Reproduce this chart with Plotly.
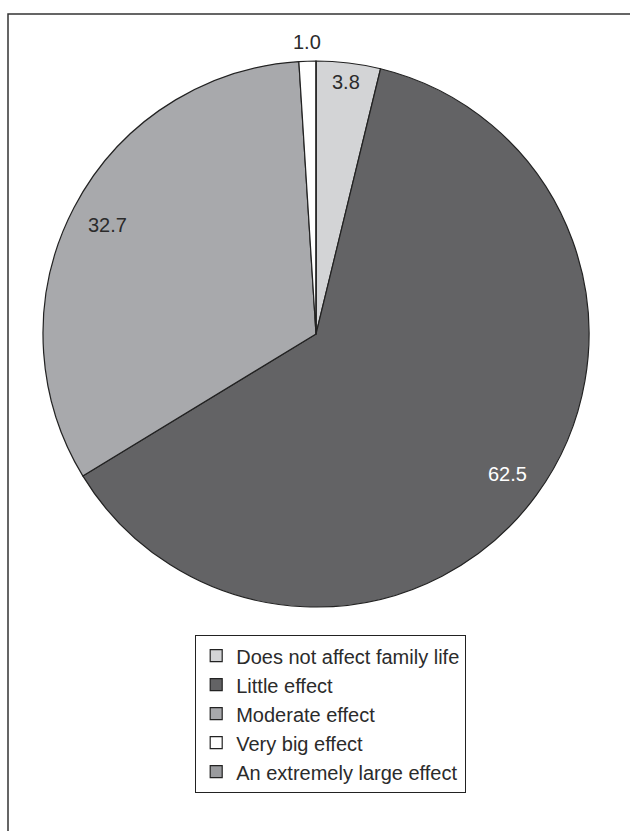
import math
import plotly.graph_objects as go

labels = ["Does not affect family life", "Little effect", "Moderate effect",
          "Very big effect", "An extremely large effect"]
values = [3.8, 62.5, 32.7, 1.0, 0.0]
colors = ["#d3d4d6", "#636365", "#a8a9ac", "#ffffff", "#9a9b9e"]
text_colors = ["#2b2b2b", "#ffffff", "#2b2b2b", "#2b2b2b", "#2b2b2b"]
# radial placement of each value label, as a fraction of the pie radius
label_radius = [0.93, 0.87, 0.86, 1.07, 0.0]

W, H = 630, 831
FONT = "Liberation Sans, Arial, sans-serif"

# pie geometry (pixels)
PX0, PX1 = 43, 589
PY0, PY1 = 61, 607
cx_px = (PX0 + PX1) / 2
cy_px = (PY0 + PY1) / 2
R = min(PX1 - PX0, PY1 - PY0) / 2

fig = go.Figure(go.Pie(
    labels=labels,
    values=values,
    textinfo="none",
    sort=False,
    direction="clockwise",
    rotation=0,
    marker=dict(colors=colors, line=dict(color="#222222", width=1.2)),
    domain=dict(x=[PX0 / W, PX1 / W], y=[1 - PY1 / H, 1 - PY0 / H]),
    showlegend=True,
    hoverinfo="label+value",
))

# value labels placed at each slice's mid-angle (clockwise from 12 o'clock)
total = sum(values)
annotations = []
cum = 0.0
for v, tc, f in zip(values, text_colors, label_radius):
    if v > 0:
        mid = (cum + v / 2) / total * 2 * math.pi
        x_px = cx_px + R * f * math.sin(mid)
        y_px = cy_px - R * f * math.cos(mid)
        annotations.append(dict(
            x=x_px / W, y=1 - y_px / H, xref="paper", yref="paper",
            text=f"{v:.1f}", showarrow=False,
            xanchor="center", yanchor="middle",
            font=dict(family=FONT, size=20, color=tc),
        ))
    cum += v

fig.update_layout(
    width=W, height=H,
    margin=dict(l=0, r=0, t=0, b=0),
    paper_bgcolor="white",
    plot_bgcolor="white",
    font=dict(family=FONT, color="#2b2b2b"),
    legend=dict(
        x=195 / W, y=1 - 635 / H, xanchor="left", yanchor="top",
        bordercolor="#222222", borderwidth=1.2,
        font=dict(family=FONT, size=20, color="#2b2b2b"),
        bgcolor="white",
        traceorder="normal",
    ),
    annotations=annotations,
    shapes=[dict(
        type="rect", xref="paper", yref="paper",
        x0=8 / W, x1=1.02, y0=-0.02, y1=1 - 14 / H,
        line=dict(color="#333333", width=1.5),
        layer="below",
    )],
)

fig.write_html("out.html")
